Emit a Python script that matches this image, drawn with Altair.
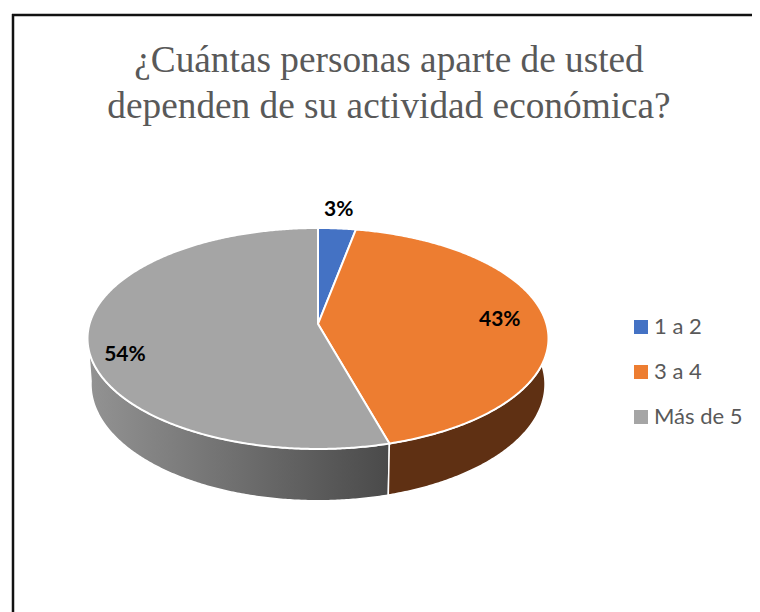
import math
import altair as alt

title_lines = ["¿Cuántas personas aparte de usted", "dependen de su actividad económica?"]
categories = ["1 a 2", "3 a 4", "Más de 5"]
shares = [3, 42.6, 54.4]
labels = ["3%", "43%", "54%"]
colors = ["#4472C4", "#ED7D31", "#A5A5A5"]

W, H = 744, 604
OX, OY = 8, 8              # page margin
CX, CY, A, B, K, D = 318, 324, 228.5, 108.6, 0.131, 45


def project(theta_deg, r=1.0, h=0.0):
    t = math.radians(theta_deg)
    u, v = r * math.sin(t), -r * math.cos(t)
    w = 1 - K * v
    shrink = 1 - 0.015 * h
    return [CX + A * u * shrink / w, CY + (B * v + D * h) / w]


def sweep(a0, a1, r=1.0, h=0.0):
    n = max(2, int(abs(a1 - a0) * 2))
    return [project(a0 + (a1 - a0) * i / n, r, h) for i in range(n + 1)]


def feature(coords, **props):
    ring = coords + [coords[0]]
    return {"type": "Feature", "properties": props,
            "geometry": {"type": "Polygon", "coordinates": [ring]}}


edges = [0]
for s in shares:
    edges.append(edges[-1] + s * 3.6)

tops = [feature([[CX, CY]] + sweep(edges[i], edges[i + 1]), cat=categories[i])
        for i in range(3)]

proj = dict(type="identity", scale=1, translate=[-OX, -OY])
geo = lambda feats: alt.Data(values=feats, format=alt.DataFormat(type="json"))


def wall(a0, a1, fill):
    f = feature(sweep(a0, a1) + sweep(a1, a0, h=1.0), cat="wall")
    return (alt.Chart(geo([f])).mark_geoshape(fill=fill, stroke="white", strokeWidth=1.5)
            .project(**proj))


def grad(c0, c1):
    return {"gradient": "linear", "x1": 0, "y1": 0, "x2": 1, "y2": 0,
            "stops": [{"offset": 0, "color": c0}, {"offset": 1, "color": c1}]}


wall_gray = wall(edges[2], 264, grad("#939393", "#4A4A4A"))
wall_orange = wall(84, edges[2], "#5F3013")

top = (alt.Chart(geo(tops))
       .mark_geoshape(stroke="white", strokeWidth=2)
       .encode(fill=alt.Fill("properties.cat:N",
                             scale=alt.Scale(domain=categories, range=colors),
                             legend=alt.Legend(title=None, orient="none",
                                               legendX=622, legendY=308,
                                               symbolType="square", symbolSize=196,
                                               symbolStrokeWidth=0, labelFont="Lato",
                                               labelFontSize=22, labelColor="#595959",
                                               labelOffset=2, rowPadding=23,
                                               labelLimit=200)))
       .project(**proj))

label_r = [1.22, 0.8, 0.84]
label_dx = [-2, 0, 0]
label_dy = [0, 0, 18]
mids = [(edges[i] + edges[i + 1]) / 2 for i in range(3)]
rows = []
for i in range(3):
    p = project(mids[i], label_r[i])
    rows.append({"x": p[0] - OX + label_dx[i], "y": p[1] - OY + label_dy[i], "t": labels[i]})

sx = alt.Scale(domain=[0, W], range=[0, W])
sy = alt.Scale(domain=[0, H], range=[0, H])
text = (alt.Chart(alt.Data(values=rows))
        .mark_text(font="Lato", fontWeight="bold", fontSize=21, color="black")
        .encode(x=alt.X("x:Q", scale=sx, axis=None),
                y=alt.Y("y:Q", scale=sy, axis=None),
                text="t:N"))

frame_top = alt.Chart(alt.Data(values=[{"a": 1}])).mark_rule(color="#111111", strokeWidth=2.5).encode(
    x=alt.value(4), x2=alt.value(W), y=alt.value(7))
frame_left = alt.Chart(alt.Data(values=[{"a": 1}])).mark_rule(color="#111111", strokeWidth=2.5).encode(
    x=alt.value(5), y=alt.value(6), y2=alt.value(H))

chart = (alt.layer(wall_gray, wall_orange, top, text, frame_top, frame_left)
         .properties(width=W, height=H, padding=0, autosize=alt.AutoSizeParams(type="none"),
                     background="white",
                     title=alt.TitleParams(text=title_lines, anchor="start", frame="group",
                                           font="Liberation Serif", fontSize=37.3, fontWeight="normal",
                                           color="#595959", lineHeight=46, align="center",
                                           baseline="alphabetic", dx=381, dy=147, offset=0))
         .configure_view(stroke=None))

chart.save("out.html", embed_options={"renderer": "svg", "actions": False})
